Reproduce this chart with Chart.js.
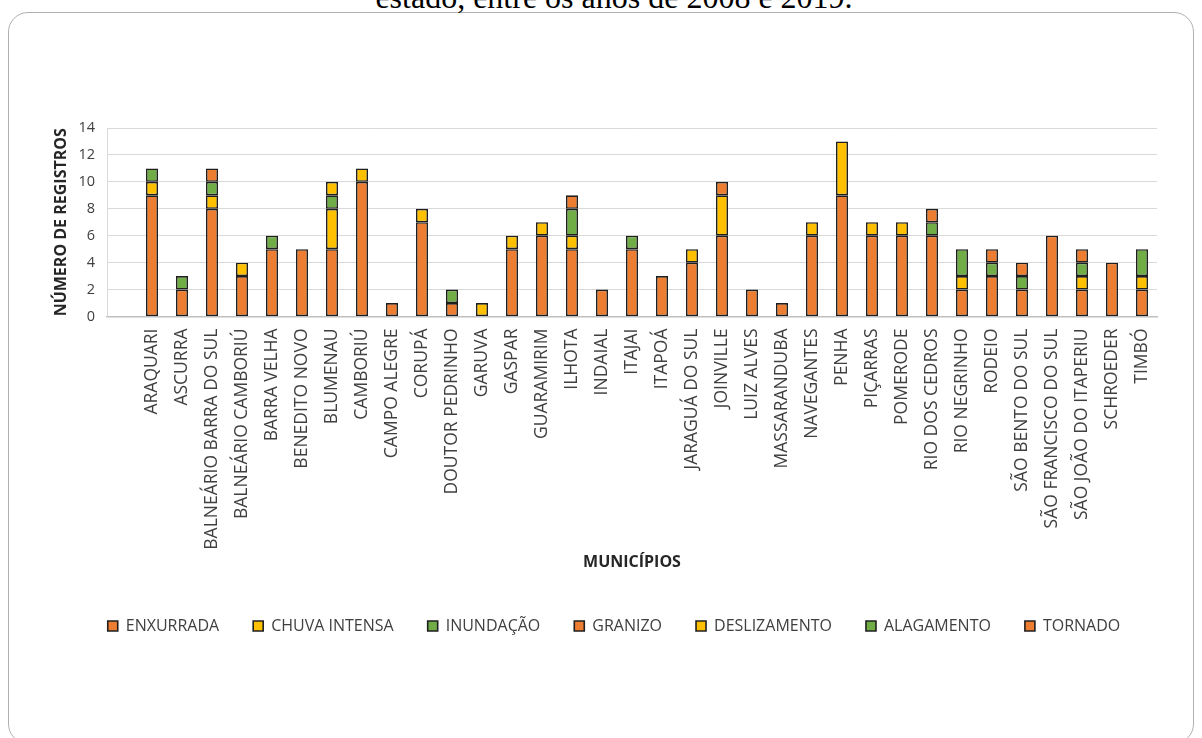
<!DOCTYPE html>
<html>
<head>
<meta charset="utf-8">
<script src="https://cdn.jsdelivr.net/npm/chart.js@4/dist/chart.umd.min.js"></script>
<style>
  html, body { margin: 0; padding: 0; background: #fff; overflow: hidden; }
  body { width: 1202px; height: 738px; position: relative; }
  #caption { position: absolute; top: -19px; left: 614px; transform: translateX(-50%); white-space: nowrap;
    font-family: "Liberation Serif", "DejaVu Serif", serif; font-size: 32px; line-height: 32px; color: #000; }
  #frame { position: absolute; left: 8px; top: 12px; width: 1186px; height: 732px; border: 1px solid #b0b0b0; border-radius: 20px; box-sizing: border-box; }
  #c { position: absolute; left: 0; top: 0; }
</style>
</head>
<body>
<div id="frame"></div>
<div id="caption">estado, entre os anos de 2008 e 2019.</div>
<canvas id="c" width="1202" height="738"></canvas>
<script>
const categories = ['', 'ARAQUARI', 'ASCURRA', 'BALNEÁRIO BARRA DO SUL', 'BALNEÁRIO CAMBORIÚ', 'BARRA VELHA',
  'BENEDITO NOVO', 'BLUMENAU', 'CAMBORIÚ', 'CAMPO ALEGRE', 'CORUPÁ', 'DOUTOR PEDRINHO', 'GARUVA', 'GASPAR',
  'GUARAMIRIM', 'ILHOTA', 'INDAIAL', 'ITAJAI', 'ITAPOÁ', 'JARAGUÁ DO SUL', 'JOINVILLE', 'LUIZ ALVES',
  'MASSARANDUBA', 'NAVEGANTES', 'PENHA', 'PIÇARRAS', 'POMERODE', 'RIO DOS CEDROS', 'RIO NEGRINHO', 'RODEIO',
  'SÃO BENTO DO SUL', 'SÃO FRANCISCO DO SUL', 'SÃO JOÃO DO ITAPERIU', 'SCHROEDER', 'TIMBÓ'];

const enxurrada    = [null, 9, 2, 8, 3, 5, 5, 5, 10, 1, 7, 1, null, 5, 6, 5, 2, 5, 3, 4, 6, 2, 1, 6, 9, 6, 6, 6, 2, 3, 2, 6, 2, 4, 2];
const chuvaIntensa = [null, 1, null, 1, 1, null, null, 3, 1, null, 1, null, 1, 1, 1, 1, null, null, null, 1, 3, null, null, 1, 4, 1, 1, null, 1, null, null, null, 1, null, 1];
const inundacao    = [null, 1, 1, 1, null, 1, null, 1, null, null, null, 1, null, null, null, 2, null, 1, null, null, null, null, null, null, null, null, null, 1, 2, 1, 1, null, 1, null, 2];
const granizo      = [null, null, null, 1, null, null, null, null, null, null, null, null, null, null, null, 1, null, null, null, null, 1, null, null, null, null, null, null, 1, null, 1, 1, null, 1, null, null];
const deslizamento = [null, null, null, null, null, null, null, 1, null, null, null, null, null, null, null, null, null, null, null, null, null, null, null, null, null, null, null, null, null, null, null, null, null, null, null];
const alagamento   = [null, null, null, null, null, null, null, null, null, null, null, null, null, null, null, null, null, null, null, null, null, null, null, null, null, null, null, null, null, null, null, null, null, null, null];
const tornado      = [null, null, null, null, null, null, null, null, null, null, null, null, null, null, null, null, null, null, null, null, null, null, null, null, null, null, null, null, null, null, null, null, null, null, null];
const yTicks = [0, 2, 4, 6, 8, 10, 12, 14];

const ORANGE = '#ED7D31', YELLOW = '#FFC000', GREEN = '#70AD47';
const mk = (label, data, color) => ({
  label, data, backgroundColor: color, borderColor: '#1f1f1f', borderWidth: 1.6,
  borderSkipped: false, barPercentage: 0.4, categoryPercentage: 1.0
});

const FONT = '"Open Sans", "Liberation Sans", sans-serif';

new Chart(document.getElementById('c'), {
  type: 'bar',
  data: {
    labels: categories,
    datasets: [
      mk('ENXURRADA', enxurrada, ORANGE),
      mk('CHUVA INTENSA', chuvaIntensa, YELLOW),
      mk('INUNDAÇÃO', inundacao, GREEN),
      mk('GRANIZO', granizo, ORANGE),
      mk('DESLIZAMENTO', deslizamento, YELLOW),
      mk('ALAGAMENTO', alagamento, GREEN),
      mk('TORNADO', tornado, ORANGE)
    ]
  },
  options: {
    responsive: false,
    animation: false,
    devicePixelRatio: 1,
    layout: { padding: { top: 128, left: 40, right: 14, bottom: 94 } },
    plugins: {
      tooltip: { enabled: false },
      legend: {
        position: 'bottom',
        labels: {
          boxWidth: 10, boxHeight: 10, padding: 34,
          color: '#404040', font: { family: FONT, size: 16 }
        }
      }
    },
    scales: {
      x: {
        stacked: true,
        grid: { display: false, drawTicks: false },
        border: { display: true, color: '#bfbfbf', width: 1.5 },
        ticks: {
          autoSkip: false, maxRotation: 90, minRotation: 90, padding: 12,
          color: '#404040', font: { family: FONT, size: 17.5 }
        },
        title: {
          display: true, text: 'MUNICÍPIOS', color: '#262626',
          font: { family: FONT, size: 16, weight: 'bold' }, padding: { top: 0, bottom: 12 }
        },
        afterFit: (s) => { s.height = 267.5; }
      },
      y: {
        stacked: true, min: 0, max: 14,
        afterBuildTicks: (s) => { s.ticks = yTicks.map(v => ({ value: v })); },
        grid: { color: '#d9d9d9', lineWidth: 1, drawTicks: false },
        border: { display: true, color: '#d9d9d9' },
        ticks: { padding: 12, color: '#404040', font: { family: FONT, size: 14.5 } },
        title: {
          display: true, text: 'NÚMERO DE REGISTROS', color: '#262626',
          font: { family: FONT, size: 16, weight: 'bold' }, padding: { top: 12, bottom: 0 }
        },
        afterFit: (s) => { s.width = 67; }
      },
      yRight: {
        position: 'right', display: true,
        grid: { display: false, drawTicks: false },
        border: { display: false },
        ticks: { display: false },
        afterFit: (s) => { s.width = 31; }
      }
    }
  }
});
</script>
</body>
</html>
